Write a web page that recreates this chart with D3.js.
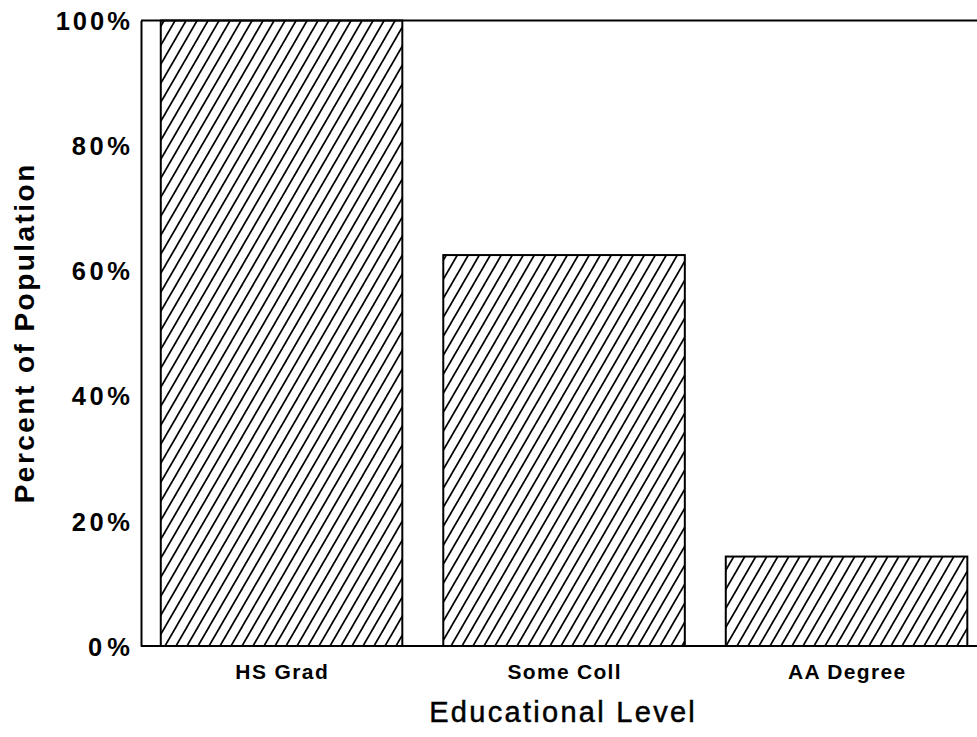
<!DOCTYPE html>
<html>
<head>
<meta charset="utf-8">
<script src="https://cdn.jsdelivr.net/npm/d3@7"></script>
<style>
  html, body { margin: 0; padding: 0; background: #fff; }
  svg { display: block; }
  text { font-family: "Liberation Sans", Arial, Helvetica, sans-serif; fill: #000; }
</style>
</head>
<body>
<svg id="chart" width="977" height="737"></svg>
<script>
const categories = ["HS Grad", "Some Coll", "AA Degree"];
const values = [100, 62.5, 14.3];
const yTicks = [0, 20, 40, 60, 80, 100];
const xTitle = "Educational Level";
const yTitle = "Percent of Population";

(function () {
const svg = d3.select("#chart");
const mLeft = 141, mRight = 977, mTop = 20.5, mBottom = 646;

const step = 282.5;
const x = d3.scaleBand()
  .domain(categories)
  .range([mLeft, mLeft + step * (3 - 0.145 + 2 * 0.07)])
  .paddingInner(0.145)
  .paddingOuter(0.07);

const y = d3.scaleLinear().domain([0, 100]).range([mBottom, mTop]);

// hatch pattern
const defs = svg.append("defs");
const tw = 11, th = 19;
const pat = defs.append("pattern")
  .attr("id", "hatch")
  .attr("patternUnits", "userSpaceOnUse")
  .attr("width", tw).attr("height", th);
[-tw, 0, tw].forEach(o => {
  pat.append("line")
    .attr("x1", -tw + o).attr("y1", 2 * th)
    .attr("x2", 2 * tw + o).attr("y2", -th)
    .attr("stroke", "#000").attr("stroke-width", 1.7);
});

function fitText(sel, factor) {
  sel.each(function () {
    const n = this.getComputedTextLength();
    d3.select(this).attr("textLength", n * factor).attr("lengthAdjust", "spacing");
  });
}

// bars
svg.append("g").selectAll("rect")
  .data(categories)
  .join("rect")
  .attr("x", d => x(d))
  .attr("y", (d, i) => y(values[i]))
  .attr("width", x.bandwidth())
  .attr("height", (d, i) => y(0) - y(values[i]))
  .attr("fill", "url(#hatch)")
  .attr("stroke", "#000")
  .attr("stroke-width", 2);

// y axis
const yAxis = d3.axisLeft(y).tickValues(yTicks).tickSize(0).tickPadding(11)
  .tickFormat(d => d + "%");
const gy = svg.append("g").attr("transform", `translate(${mLeft},0)`).call(yAxis);
gy.select(".domain").attr("stroke", "#000").attr("stroke-width", 2);
gy.selectAll("text")
  .attr("font-family", "Liberation Sans, Arial, sans-serif")
  .attr("font-size", 25.5).attr("font-weight", "bold").attr("fill", "#000")
  .attr("dy", "0.36em");
fitText(gy.selectAll("text"), 1.14);

// x axis
const xAxis = d3.axisBottom(x).tickSize(0).tickPadding(0);
const gx = svg.append("g").attr("transform", `translate(0,${mBottom})`).call(xAxis);
gx.select(".domain").remove();
svg.append("line")
  .attr("x1", mLeft).attr("x2", mRight).attr("y1", mBottom).attr("y2", mBottom)
  .attr("stroke", "#000").attr("stroke-width", 2);
gx.selectAll("text")
  .attr("font-family", "Liberation Sans, Arial, sans-serif")
  .attr("font-size", 21).attr("font-weight", "bold").attr("fill", "#000")
  .attr("dy", null).attr("y", 33);
fitText(gx.selectAll("text"), 1.1);

// top frame line
svg.append("line")
  .attr("x1", mLeft).attr("x2", mRight).attr("y1", mTop).attr("y2", mTop)
  .attr("stroke", "#000").attr("stroke-width", 2);

// titles
const xt = svg.append("text")
  .attr("x", 562).attr("y", 722)
  .attr("text-anchor", "middle")
  .attr("font-size", 29)
  .attr("stroke", "#000").attr("stroke-width", 0.5)
  .text(xTitle);
fitText(xt, 1.16);

const yt = svg.append("text")
  .attr("transform", "translate(34,334) rotate(-90)")
  .attr("text-anchor", "middle")
  .attr("font-size", 28)
  .attr("font-weight", "bold")
  .text(yTitle);
fitText(yt, 1.17);
})();
</script>
</body>
</html>
